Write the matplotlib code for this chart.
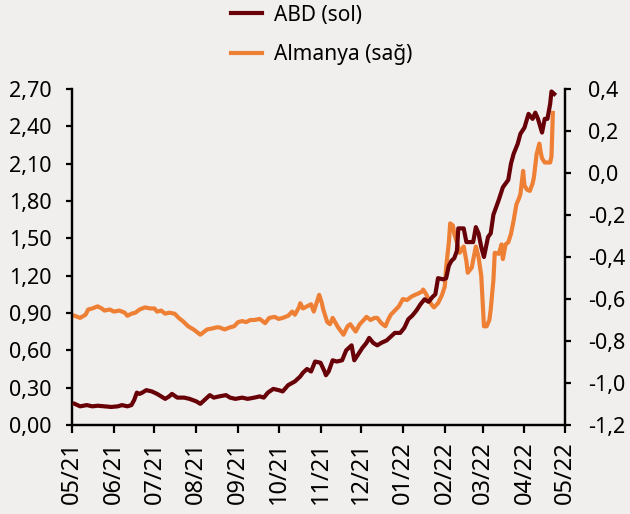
import matplotlib
matplotlib.use("Agg")
import matplotlib.pyplot as plt
import matplotlib.dates as mdates
from matplotlib.ticker import FuncFormatter, FixedLocator
import pandas as pd

plt.rcParams['font.family'] = ['Noto Sans', 'DejaVu Sans']

abd_dates = ["2021-05-03","2021-05-07","2021-05-12","2021-05-16","2021-05-20","2021-05-25","2021-05-30",
 "2021-06-04","2021-06-07","2021-06-11","2021-06-14","2021-06-16","2021-06-18","2021-06-20","2021-06-22","2021-06-25","2021-06-29",
 "2021-07-03","2021-07-06","2021-07-09","2021-07-12","2021-07-14","2021-07-18","2021-07-23","2021-07-27",
 "2021-08-01","2021-08-04","2021-08-07","2021-08-11","2021-08-14","2021-08-18","2021-08-23","2021-08-26","2021-08-30",
 "2021-09-04","2021-09-08","2021-09-13","2021-09-17","2021-09-20","2021-09-23","2021-09-27",
 "2021-10-01","2021-10-04","2021-10-08","2021-10-13","2021-10-17","2021-10-19","2021-10-22","2021-10-25","2021-10-28",
 "2021-11-01","2021-11-04","2021-11-05","2021-11-07","2021-11-10","2021-11-13","2021-11-17","2021-11-20","2021-11-24","2021-11-26","2021-11-29",
 "2021-12-02","2021-12-05","2021-12-07","2021-12-10","2021-12-13","2021-12-16","2021-12-20","2021-12-23","2021-12-26","2021-12-30",
 "2022-01-02","2022-01-05","2022-01-08","2022-01-11","2022-01-14","2022-01-17","2022-01-20","2022-01-23","2022-01-25","2022-01-27","2022-01-31",
 "2022-02-02","2022-02-04","2022-02-06","2022-02-08","2022-02-10","2022-02-11","2022-02-15","2022-02-17","2022-02-22","2022-02-24","2022-02-26","2022-02-28",
 "2022-03-02","2022-03-05","2022-03-07","2022-03-09","2022-03-13","2022-03-16","2022-03-20","2022-03-22","2022-03-24","2022-03-27","2022-03-29",
 "2022-04-01","2022-04-04","2022-04-07","2022-04-09","2022-04-11","2022-04-14","2022-04-16","2022-04-18","2022-04-20","2022-04-21","2022-04-23"]
abd_values = [0.17,0.15,0.16,0.15,0.155,0.15,0.145,
 0.15,0.16,0.15,0.16,0.20,0.26,0.25,0.26,0.28,0.27,
 0.25,0.23,0.21,0.23,0.25,0.22,0.22,0.21,
 0.19,0.17,0.20,0.24,0.22,0.23,0.24,0.22,0.21,
 0.22,0.21,0.22,0.23,0.22,0.26,0.29,
 0.28,0.27,0.32,0.35,0.39,0.42,0.45,0.43,0.51,
 0.50,0.43,0.40,0.43,0.52,0.51,0.52,0.60,0.64,0.52,0.57,
 0.62,0.66,0.70,0.66,0.64,0.66,0.68,0.71,0.74,0.74,
 0.78,0.85,0.88,0.92,0.97,1.01,0.99,1.03,1.05,1.18,1.17,
 1.18,1.28,1.32,1.34,1.40,1.58,1.58,1.47,1.47,1.59,1.54,1.43,
 1.35,1.51,1.54,1.69,1.81,1.91,1.97,2.10,2.18,2.26,2.34,
 2.39,2.50,2.46,2.51,2.46,2.35,2.46,2.46,2.58,2.68,2.66]

de_dates = ["2021-05-03","2021-05-07","2021-05-11","2021-05-13","2021-05-16","2021-05-20","2021-05-23","2021-05-25","2021-05-29",
 "2021-06-01","2021-06-05","2021-06-09","2021-06-11","2021-06-14","2021-06-17","2021-06-20","2021-06-24","2021-06-28",
 "2021-07-01","2021-07-03","2021-07-06","2021-07-09","2021-07-12","2021-07-16","2021-07-19","2021-07-22","2021-07-26","2021-07-30",
 "2021-08-02","2021-08-04","2021-08-06","2021-08-09","2021-08-13","2021-08-16","2021-08-18","2021-08-22","2021-08-26","2021-08-29",
 "2021-09-01","2021-09-04","2021-09-07","2021-09-10","2021-09-13","2021-09-17","2021-09-21","2021-09-24","2021-09-28",
 "2021-10-01","2021-10-04","2021-10-08","2021-10-11","2021-10-13","2021-10-16","2021-10-17","2021-10-19","2021-10-22","2021-10-25","2021-10-27","2021-10-31",
 "2021-11-02","2021-11-03","2021-11-06","2021-11-08","2021-11-10","2021-11-14","2021-11-18","2021-11-21","2021-11-23","2021-11-27","2021-11-30",
 "2021-12-03","2021-12-05","2021-12-08","2021-12-11","2021-12-13","2021-12-16","2021-12-19","2021-12-21","2021-12-23","2021-12-26","2021-12-29",
 "2022-01-01","2022-01-04","2022-01-07","2022-01-10","2022-01-12","2022-01-15","2022-01-16","2022-01-18","2022-01-20","2022-01-22","2022-01-24","2022-01-27","2022-01-30",
 "2022-02-01","2022-02-02","2022-02-04","2022-02-05","2022-02-07","2022-02-08","2022-02-10","2022-02-12","2022-02-15","2022-02-17","2022-02-18","2022-02-21","2022-02-22","2022-02-24","2022-02-26","2022-02-28",
 "2022-03-02","2022-03-04","2022-03-06","2022-03-07","2022-03-09","2022-03-10","2022-03-13","2022-03-15","2022-03-16","2022-03-18","2022-03-20","2022-03-22","2022-03-24","2022-03-26","2022-03-28","2022-03-29","2022-03-31",
 "2022-04-01","2022-04-03","2022-04-05","2022-04-07","2022-04-08","2022-04-10","2022-04-12","2022-04-13","2022-04-14","2022-04-16","2022-04-20","2022-04-21","2022-04-22"]
de_values = [-0.68,-0.69,-0.675,-0.65,-0.645,-0.635,-0.645,-0.655,-0.65,
 -0.66,-0.655,-0.665,-0.68,-0.67,-0.665,-0.65,-0.64,-0.645,
 -0.645,-0.66,-0.655,-0.67,-0.665,-0.67,-0.69,-0.705,-0.73,-0.745,
 -0.76,-0.77,-0.76,-0.745,-0.74,-0.735,-0.735,-0.745,-0.735,-0.73,
 -0.71,-0.705,-0.71,-0.70,-0.70,-0.695,-0.715,-0.69,-0.685,
 -0.695,-0.69,-0.68,-0.66,-0.675,-0.64,-0.62,-0.645,-0.635,-0.625,-0.66,-0.58,
 -0.62,-0.65,-0.71,-0.72,-0.69,-0.735,-0.77,-0.73,-0.72,-0.755,-0.72,
 -0.70,-0.685,-0.70,-0.69,-0.69,-0.715,-0.73,-0.70,-0.675,-0.655,-0.635,
 -0.60,-0.605,-0.59,-0.58,-0.575,-0.565,-0.555,-0.575,-0.60,-0.625,-0.64,-0.62,-0.58,
 -0.54,-0.45,-0.33,-0.24,-0.25,-0.29,-0.33,-0.38,-0.35,-0.42,-0.475,-0.45,-0.415,-0.35,-0.40,-0.49,
 -0.73,-0.73,-0.70,-0.65,-0.51,-0.38,-0.385,-0.34,-0.41,-0.34,-0.33,-0.29,-0.225,-0.15,-0.12,-0.10,0.01,
 -0.06,-0.08,-0.085,-0.05,-0.02,0.09,0.14,0.10,0.07,0.05,0.05,0.08,0.286]

labels = ["ABD (sol)", "Almanya (sağ)"]
colors = ["#680008", "#EE8036"]
left_ticks = [0.0, 0.3, 0.6, 0.9, 1.2, 1.5, 1.8, 2.1, 2.4, 2.7]
right_ticks = [-1.2, -1.0, -0.8, -0.6, -0.4, -0.2, 0.0, 0.2, 0.4]

bg = "#F1EFED"
fig = plt.figure(figsize=(6.3, 5.14), dpi=100, facecolor=bg)
ax = fig.add_axes([72/630, 1-425/514, (565-72)/630, (425-89)/514])
ax.set_facecolor(bg)
ax2 = ax.twinx()

l1, = ax.plot(pd.to_datetime(abd_dates), abd_values, color=colors[0], lw=3.0, label=labels[0], zorder=3)
l2, = ax2.plot(pd.to_datetime(de_dates), de_values, color=colors[1], lw=3.0, label=labels[1], zorder=2)
ax.set_zorder(ax2.get_zorder() + 1)
ax.patch.set_visible(False)
ax2.patch.set_visible(True)
ax2.patch.set_facecolor(bg)

ax.set_xlim(pd.Timestamp("2021-05-01"), pd.Timestamp("2022-05-01"))
ax.set_ylim(0, 2.7)
ax2.set_ylim(-1.2, 0.4)
ax.yaxis.set_major_locator(FixedLocator(left_ticks))
ax2.yaxis.set_major_locator(FixedLocator(right_ticks))
ax.yaxis.set_major_formatter(FuncFormatter(lambda v, p: f"{v:.2f}".replace(".", ",")))
ax2.yaxis.set_major_formatter(FuncFormatter(lambda v, p: f"{round(v, 1) + 0.0:.1f}".replace(".", ",")))
ax.xaxis.set_major_locator(mdates.MonthLocator())
ax.xaxis.set_major_formatter(mdates.DateFormatter("%m/%y"))

for a in (ax, ax2):
    a.spines['top'].set_visible(False)
    for s in ('left', 'right', 'bottom'):
        a.spines[s].set_linewidth(1.6)
        a.spines[s].set_color('black')
ax.tick_params(axis='y', direction='out', length=4.5, width=1.6, labelsize=15.5, pad=10)
ax2.tick_params(axis='y', direction='out', length=4.5, width=1.6, labelsize=15.5, pad=12)
ax.tick_params(axis='x', direction='out', length=6, width=1.6, labelsize=17, pad=6, rotation=90)

fig.legend([l1, l2], labels, loc='center left', bbox_to_anchor=(231/630, 1-35/514),
           frameon=False, fontsize=15, handlelength=1.5, handletextpad=0.55,
           labelspacing=0.9, borderpad=0, borderaxespad=0)

fig.savefig("out.png", dpi=100, facecolor=bg)
